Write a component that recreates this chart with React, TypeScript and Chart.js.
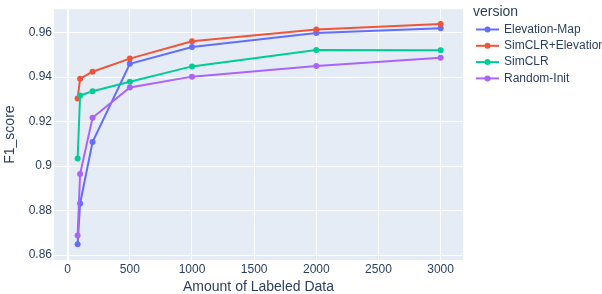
import React, { useEffect, useRef } from "react";
import { Chart, registerables } from "chart.js";

Chart.register(...registerables);

const labeledAmounts = [80, 100, 200, 500, 1000, 2000, 3000];
const seriesNames = ["Elevation-Map", "SimCLR+Elevation", "SimCLR", "Random-Init"];
const seriesColors = ["#636efa", "#EF553B", "#00cc96", "#ab63fa"];
const elevationMap = [0.8649, 0.8832, 0.9108, 0.946, 0.9535, 0.9598, 0.9619];
const simclrElevation = [0.9304, 0.9393, 0.9424, 0.9483, 0.9561, 0.9614, 0.9639];
const simclr = [0.9034, 0.9317, 0.9336, 0.9379, 0.9448, 0.9522, 0.952];
const randomInit = [0.8688, 0.8965, 0.9217, 0.9353, 0.9402, 0.945, 0.9487];
const seriesValues = [elevationMap, simclrElevation, simclr, randomInit];
const xTickValues = [0, 500, 1000, 1500, 2000, 2500, 3000];
const yTickValues = [0.86, 0.88, 0.9, 0.92, 0.94, 0.96];
const legendTitle = "version";
const xTitle = "Amount of Labeled Data";
const yTitle = "F1_score";

const FONT = "Arial, 'Liberation Sans', sans-serif";
const TEXT = "#2a3f5f";

const bgPlugin = {
  id: "plotBg",
  beforeDraw(chart: any) {
    const { ctx, chartArea } = chart;
    ctx.save();
    ctx.fillStyle = "#e5ecf6";
    ctx.fillRect(chartArea.left, chartArea.top, chartArea.right - chartArea.left, chartArea.bottom - chartArea.top);
    ctx.restore();
  },
};

const legendPlugin = {
  id: "plotlyLegend",
  afterDraw(chart: any) {
    const { ctx } = chart;
    ctx.save();
    ctx.fillStyle = TEXT;
    ctx.textBaseline = "middle";
    ctx.textAlign = "left";
    ctx.font = `14px ${FONT}`;
    ctx.fillText(legendTitle, 473, 12);
    ctx.font = `12px ${FONT}`;
    chart.data.datasets.forEach((ds: any, i: number) => {
      const y = 29.5 + i * 16.3;
      ctx.strokeStyle = ds.borderColor;
      ctx.lineWidth = 2;
      ctx.beginPath();
      ctx.moveTo(476, y);
      ctx.lineTo(499, y);
      ctx.stroke();
      ctx.fillStyle = ds.borderColor;
      ctx.beginPath();
      ctx.arc(487.5, y, 3, 0, Math.PI * 2);
      ctx.fill();
      ctx.fillStyle = TEXT;
      ctx.fillText(ds.label, 504, y);
    });
    ctx.restore();
  },
};

export default function App() {
  const ref = useRef<HTMLCanvasElement>(null);
  useEffect(() => {
    if (!ref.current) return;
    const chart = new Chart(ref.current, {
      type: "line",
      data: {
        datasets: seriesNames.map((name, i) => ({
          label: name,
          data: labeledAmounts.map((x, j) => ({ x, y: seriesValues[i][j] })),
          borderColor: seriesColors[i],
          backgroundColor: seriesColors[i],
          borderWidth: 2,
          pointRadius: 3,
          pointBorderWidth: 0,
          pointBackgroundColor: seriesColors[i],
          tension: 0,
          fill: false,
          order: seriesNames.length - i,
        })),
      },
      options: {
        responsive: false,
        animation: false,
        devicePixelRatio: 1,
        layout: { padding: { left: 0, right: 139, top: 0, bottom: 0 } },
        plugins: {
          legend: { display: false },
          tooltip: { enabled: false },
        },
        scales: {
          x: {
            type: "linear",
            min: -110,
            max: 3180,
            border: { display: false },
            grid: {
              color: "#ffffff",
              lineWidth: (c: any) => (c.tick && c.tick.value === 0 ? 2 : 1),
              drawTicks: false,
            },
            afterBuildTicks: (s: any) => {
              s.ticks = xTickValues.map((value) => ({ value }));
            },
            ticks: {
              padding: 2,
              color: TEXT,
              font: { family: FONT, size: 12 },
              maxRotation: 0,
              autoSkip: false,
              callback: (v: any) => String(v),
            },
            title: {
              display: true,
              text: xTitle,
              color: TEXT,
              font: { family: FONT, size: 14, lineHeight: 1 },
              padding: { top: 0, bottom: 0 },
            },
            afterFit: (s: any) => {
              s.height = 34;
            },
          },
          y: {
            type: "linear",
            min: 0.8578,
            max: 0.9705,
            border: { display: false },
            grid: { color: "#ffffff", lineWidth: 1, drawTicks: false },
            afterBuildTicks: (s: any) => {
              s.ticks = yTickValues.map((value) => ({ value }));
            },
            ticks: {
              padding: 2,
              color: TEXT,
              autoSkip: false,
              font: { family: FONT, size: 12 },
              callback: (v: any) => String(Number(Number(v).toFixed(2))),
            },
            title: {
              display: true,
              text: yTitle,
              color: TEXT,
              font: { family: FONT, size: 14, lineHeight: 1 },
              padding: { top: 3, bottom: 0 },
            },
            afterFit: (s: any) => {
              s.width = 54;
            },
          },
        },
      },
      plugins: [bgPlugin, legendPlugin],
    } as any);
    return () => chart.destroy();
  }, []);
  return (
    <div style={{ position: "fixed", left: 0, top: 0, width: 602, height: 294, background: "#fff" }}>
      <canvas ref={ref} width={602} height={294} style={{ display: "block" }} />
    </div>
  );
}
